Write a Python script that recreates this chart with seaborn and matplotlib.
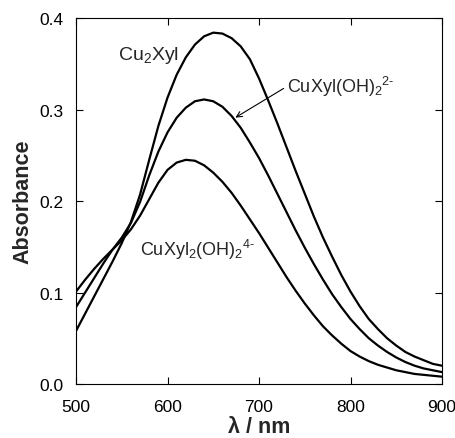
import matplotlib
matplotlib.use('Agg')
import matplotlib.pyplot as plt
import seaborn as sns
import pandas as pd

sns.set_style('ticks')
plt.rcParams['font.family'] = ['Liberation Sans', 'DejaVu Sans']
plt.rcParams['mathtext.default'] = 'regular'

# wavelength grid (nm), values every 10 nm
wavelength = [500, 510, 520, 530, 540, 550, 560, 570, 580, 590,
              600, 610, 620, 630, 640, 650, 660, 670, 680, 690,
              700, 710, 720, 730, 740, 750, 760, 770, 780, 790,
              800, 810, 820, 830, 840, 850, 860, 870, 880, 890, 900]

cu2xyl = [0.058, 0.077, 0.096, 0.115, 0.134, 0.154, 0.177, 0.207, 0.245, 0.282,
          0.313, 0.338, 0.357, 0.371, 0.380, 0.384, 0.383, 0.378, 0.369, 0.355,
          0.334, 0.310, 0.285, 0.259, 0.233, 0.208, 0.183, 0.160, 0.139, 0.119,
          0.101, 0.085, 0.071, 0.060, 0.050, 0.042, 0.035, 0.030, 0.026, 0.022, 0.020]

cuxyl_oh2 = [0.084, 0.100, 0.116, 0.132, 0.147, 0.160, 0.176, 0.199, 0.228, 0.254,
             0.275, 0.291, 0.302, 0.309, 0.311, 0.309, 0.303, 0.293, 0.280, 0.264,
             0.247, 0.228, 0.208, 0.188, 0.168, 0.149, 0.131, 0.114, 0.098, 0.084,
             0.071, 0.060, 0.050, 0.042, 0.035, 0.029, 0.024, 0.020, 0.017, 0.015, 0.013]

cuxyl2_oh2 = [0.101, 0.114, 0.126, 0.137, 0.147, 0.157, 0.169, 0.184, 0.202, 0.220,
              0.234, 0.242, 0.245, 0.244, 0.239, 0.231, 0.221, 0.209, 0.195, 0.180,
              0.165, 0.149, 0.133, 0.117, 0.102, 0.088, 0.075, 0.063, 0.053, 0.044,
              0.036, 0.030, 0.025, 0.021, 0.018, 0.015, 0.013, 0.011, 0.010, 0.009, 0.008]

x_ticks = [500, 600, 700, 800, 900]
y_ticks = [0.0, 0.1, 0.2, 0.3, 0.4]

df = pd.DataFrame({'wl': wavelength, 'Cu2Xyl': cu2xyl,
                   'CuXyl(OH)2': cuxyl_oh2, 'CuXyl2(OH)2': cuxyl2_oh2})

fig = plt.figure(figsize=(4.56, 4.39), dpi=100)
ax = fig.add_axes([0.1667, 0.123, 0.8026, 0.8337])

for col in ['Cu2Xyl', 'CuXyl(OH)2', 'CuXyl2(OH)2']:
    sns.lineplot(data=df, x='wl', y=col, color='black', linewidth=1.6, ax=ax)

ax.set_xlim(500, 900)
ax.set_ylim(0, 0.4)
ax.set_xticks(x_ticks)
ax.set_yticks(y_ticks)
ax.set_yticklabels([f'{v:.1f}' for v in y_ticks])
ax.tick_params(direction='in', length=5, width=0.8, top=True, right=True,
               labelsize=12.5, colors='black')
ax.tick_params(axis='x', pad=10.5)
ax.tick_params(axis='y', pad=9)
for s in ax.spines.values():
    s.set_linewidth(0.8)
    s.set_color('black')

ax.set_xlabel('λ / nm', fontsize=15.5, fontweight='bold', labelpad=1.5)
ax.set_ylabel('Absorbance', fontsize=15.5, fontweight='bold', labelpad=4)

ax.text(546, 0.355, 'Cu$_2$Xyl', fontsize=14, ha='left', va='baseline')
ax.text(731, 0.3195, 'CuXyl(OH)$_2{}^{2\u2010}$', fontsize=13, ha='left', va='baseline')
ax.annotate('', xy=(671.6, 0.2896), xytext=(729.5, 0.3246),
            arrowprops=dict(arrowstyle='->', color='black', lw=0.8))
ax.text(570, 0.141, 'CuXyl$_2$(OH)$_2{}^{4\u2010}$', fontsize=13, ha='left', va='baseline')

fig.savefig('out.png', dpi=100)
plt.close()
